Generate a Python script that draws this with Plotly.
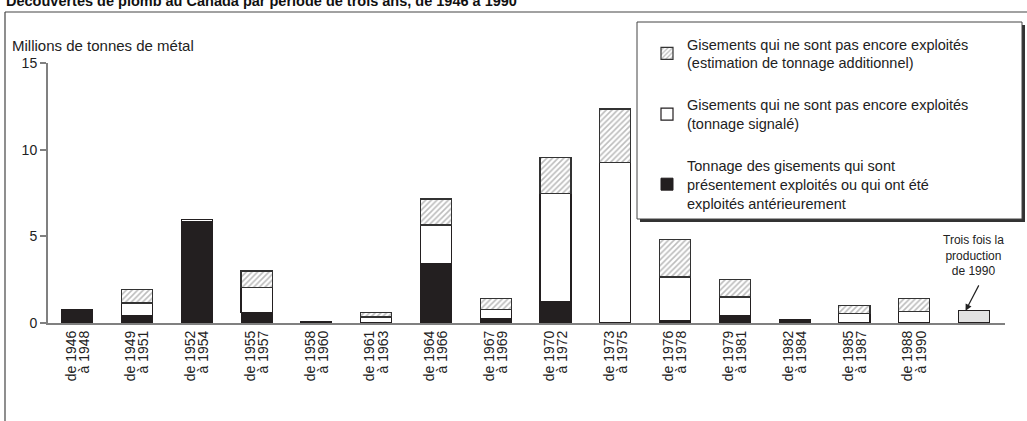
import plotly.graph_objects as go

# Three-year discovery periods (first and last year of each)
period_start = ["de 1946", "de 1949", "de 1952", "de 1955", "de 1958", "de 1961", "de 1964", "de 1967",
                "de 1970", "de 1973", "de 1976", "de 1979", "de 1982", "de 1985", "de 1988"]
period_end = ["à 1948", "à 1951", "à 1954", "à 1957", "à 1960", "à 1963", "à 1966", "à 1969",
              "à 1972", "à 1975", "à 1978", "à 1981", "à 1984", "à 1987", "à 1990"]

# Millions of tonnes of lead metal
exploites = [0.8, 0.4, 5.85, 0.6, 0.1, 0.05, 3.4, 0.25, 1.25, 0.05, 0.15, 0.4, 0.2, 0.05, 0.03]
signale = [None, 0.75, 0.1, 1.45, None, 0.3, 2.25, 0.55, 6.2, 9.2, 2.5, 1.1, None, 0.5, 0.65]
additionnel = [None, 0.8, None, 0.95, None, 0.25, 1.5, 0.6, 2.1, 3.1, 2.15, 1.0, None, 0.45, 0.75]

# Reference bar: three times the 1990 production
production_1990_x3 = [0.7]

W, H = 1027, 421
L, R, T, B = 48, 22, 63, 98
pw, ph = W - L - R, H - T - B


def px(x):
    return (x - L) / pw


def py(y):
    return (H - B - y) / ph


FONT = "Arial, Liberation Sans, sans-serif"
DARK = "#231f20"
FS = 14

xs = list(range(len(period_start)))

fig = go.Figure()

fig.add_bar(
    x=xs, y=exploites, width=0.52,
    name="Tonnage des gisements qui sont<br>présentement exploités ou qui ont été<br>exploités antérieurement",
    legendgroup="a", legendrank=3,
    marker=dict(color=DARK, line=dict(color=DARK, width=1)),
)
fig.add_bar(
    x=xs, y=signale, width=0.52,
    name="Gisements qui ne sont pas encore exploités<br>(tonnage signalé)",
    legendgroup="b", legendrank=2,
    marker=dict(color="white", line=dict(color=DARK, width=1.2)),
)
fig.add_bar(
    x=xs, y=additionnel, width=0.52,
    name="Gisements qui ne sont pas encore exploités<br>(estimation de tonnage additionnel)",
    legendgroup="c", legendrank=1,
    marker=dict(
        color="white",
        line=dict(color="#333", width=1.2),
        pattern=dict(shape="/", fgcolor="#7a7a7a", bgcolor="white", size=4, solidity=0.4, fillmode="overlay"),
    ),
)
fig.add_bar(
    x=[len(period_start)], y=production_1990_x3, width=0.52, showlegend=False,
    marker=dict(color="#e2e2e2", line=dict(color=DARK, width=1.2)),
)

shapes = [
    # outer frame: top rule and left rule
    dict(type="line", xref="paper", yref="paper", x0=px(5), x1=px(1027), y0=py(12), y1=py(12),
         line=dict(color="#444", width=1.2)),
    dict(type="line", xref="paper", yref="paper", x0=px(5), x1=px(5), y0=py(12), y1=py(421),
         line=dict(color="#444", width=1.2)),
    # legend box with drop shadow
    dict(type="rect", xref="paper", yref="paper", x0=px(640), x1=px(1025), y0=py(25), y1=py(222),
         line=dict(width=0), fillcolor="#333", layer="above"),
    dict(type="rect", xref="paper", yref="paper", x0=px(637), x1=px(1022), y0=py(22), y1=py(219),
         line=dict(color="#444", width=1), fillcolor="white", layer="above"),
]

annotations = [
    dict(text="<b>Découvertes de plomb au Canada par période de trois ans, de 1946 à 1990</b>",
         xref="paper", yref="paper", x=px(4), y=py(1), xanchor="left", yanchor="middle",
         showarrow=False, font=dict(family=FONT, size=14.5, color="#111")),
    dict(text="Millions de tonnes de métal", xref="paper", yref="paper",
         x=px(10), y=py(45), xanchor="left", yanchor="middle",
         showarrow=False, font=dict(family=FONT, size=FS + 1, color="#222")),
    dict(text="Trois fois la<br>production<br>de 1990", xref="x", yref="paper",
         x=len(period_start), y=py(255), xanchor="center", yanchor="middle",
         showarrow=False, font=dict(family=FONT, size=12, color="#222")),
    dict(text="", x=len(period_start) - 0.14, y=production_1990_x3[0], xref="x", yref="y",
         ax=14, ay=-27, showarrow=True, arrowhead=2, arrowsize=1.1, arrowwidth=1.2, arrowcolor="#222"),
]

# each period label is two rotated lines, set side by side around the bar centre
tick_vals = [x - 0.105 for x in xs] + [x + 0.115 for x in xs]
tick_text = period_start + period_end

fig.update_layout(
    width=W, height=H,
    margin=dict(l=L, r=R, t=T, b=B),
    paper_bgcolor="white", plot_bgcolor="white",
    barmode="stack",
    font=dict(family=FONT, size=FS, color="#222"),
    showlegend=True,
    legend=dict(
        x=px(647), y=py(28), xanchor="left", yanchor="top",
        bgcolor="rgba(0,0,0,0)", borderwidth=0,
        traceorder="grouped", tracegroupgap=20,
        font=dict(family=FONT, size=FS + 0.5, color="#222"),
    ),
    shapes=shapes,
    annotations=annotations,
    xaxis=dict(
        range=[-0.49, 15.52], tickmode="array", tickvals=tick_vals, ticktext=tick_text,
        tickangle=-90, showgrid=False, zeroline=False, ticks="",
        showline=True, linecolor="#808080", linewidth=2,
        tickfont=dict(family=FONT, size=FS, color="#222"),
    ),
    yaxis=dict(
        range=[0, 15], tickvals=[0, 5, 10, 15], showgrid=False, zeroline=False,
        ticks="outside", ticklen=6, tickcolor="#808080", tickwidth=1.5,
        showline=True, linecolor="#808080", linewidth=2,
        tickfont=dict(family=FONT, size=FS, color="#222"),
    ),
)

fig.write_html("out.html")
